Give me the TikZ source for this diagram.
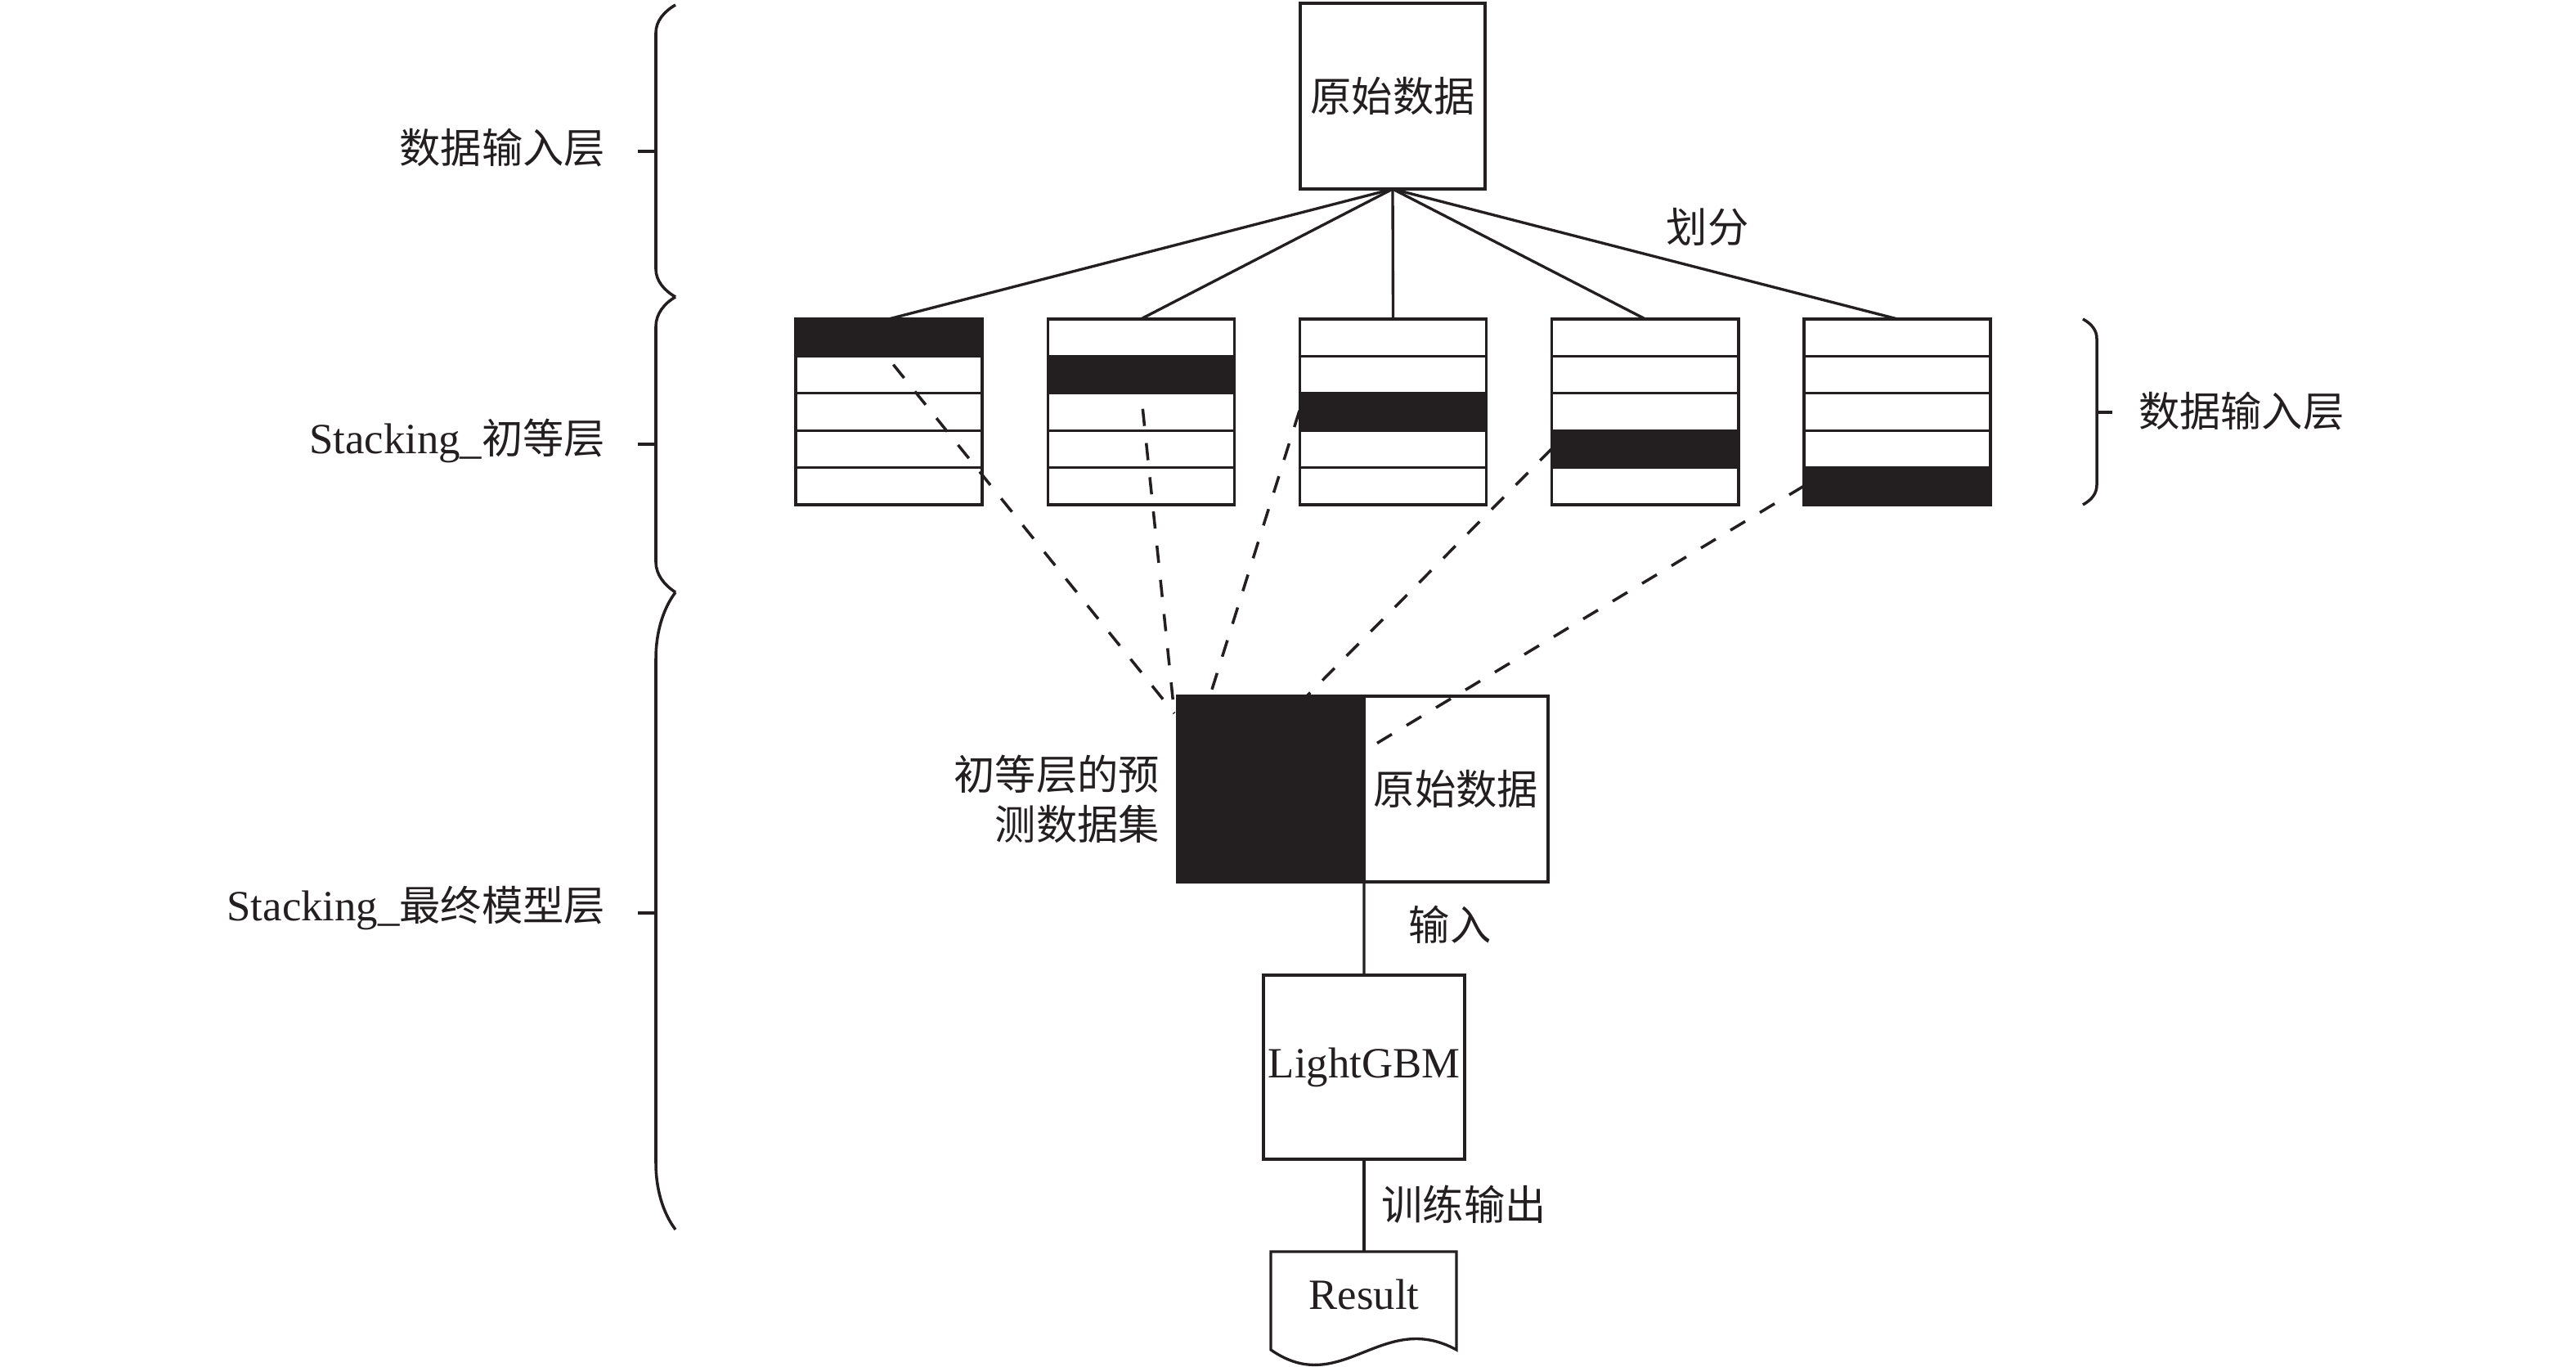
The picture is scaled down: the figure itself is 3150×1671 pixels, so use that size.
\documentclass[tikz,border=0pt]{standalone}
\usepackage{fontspec}
\setmainfont{Liberation Serif}
\newfontfamily\cjk{Noto Sans CJK SC}
\newcommand\latsz{\fontsize{15}{18}\selectfont}
\definecolor{ink}{HTML}{231F20}
\begin{document}
\begin{tikzpicture}[x=0.01cm,y=-0.01cm,
  every node/.style={inner sep=0pt,outer sep=0pt,text=ink,font=\fontsize{14.3}{17.3}\selectfont},
  box/.style={draw=ink,line width=0.95pt,fill=white},
  conn/.style={draw=ink,line width=0.95pt},
  dashconn/.style={draw=ink,line width=1pt,dash pattern=on 0.21cm off 0.21cm},
  bracepath/.style={draw=ink,line width=1pt},
  lbl/.style={anchor=east}]
\useasboundingbox (0,0) rectangle (3150,1671);
\fill[white] (0,0) rectangle (3150,1671);

% left braces
\draw[bracepath] (826,6) .. controls (812,14) and (802,26) .. (802,40) -- (802,329) .. controls (802,343) and (812,355) .. (826,363);
\draw[bracepath] (826,363) .. controls (812,371) and (802,384) .. (802,399) -- (802,687) .. controls (802,702) and (812,715) .. (826,724);
\draw[bracepath] (826,724) .. controls (810,745) and (802,775) .. (802,805) -- (802,1422) .. controls (802,1452) and (810,1482) .. (826,1503);
\coordinate (t1) at (802,185);
\coordinate (t2) at (802,543);
\coordinate (t3) at (802,1116);
\draw[bracepath] (t1) -- ++(-22,0);
\draw[bracepath] (t2) -- ++(-22,0);
\draw[bracepath] (t3) -- ++(-22,0);
\node[lbl] (L1) at (740,181) {\cjk 数据输入层};
\node[lbl] (L2) at (740,539) {{\latsz Stacking\_}{\cjk 初等层}};
\node[lbl] (L3) at (740,1110) {{\latsz Stacking\_}{\cjk 最终模型层}};

% right brace
\draw[bracepath] (2547,390) .. controls (2558,396) and (2564,404) .. (2564,414) -- (2564,593) .. controls (2564,603) and (2558,611) .. (2547,617);
\coordinate (rt) at (2564,504);
\draw[bracepath] (rt) -- ++(19,0);
\node[anchor=west] (R1) at (2615,503) {\cjk 数据输入层};

% source box
\node[box,minimum width=2.26cm,minimum height=2.27cm] (src) at (1703,117.5) {\cjk 原始数据};
\node (split) at (2088,278) {\cjk 划分};

% striped boxes
\foreach \i in {0,...,4} {
  \pgfmathsetmacro\cx{1087+308.25*\i}
  \node[box,minimum width=2.28cm,minimum height=2.27cm] (b\i) at (\cx,503.5) {};
  \fill[ink] ({\cx-114},{390+45.4*\i}) rectangle ({\cx+114},{435.4+45.4*\i});
  \foreach \j in {1,...,4} {
    \draw[conn] ({\cx-114},{390+45.4*\j}) -- ({\cx+114},{390+45.4*\j});
  }
  \draw[conn] (b\i.north west) rectangle (b\i.south east);
  \draw[conn] (src.south) -- (b\i.north);
}

% combined box
\node[draw=ink,fill=ink,line width=0.95pt,minimum width=2.28cm,minimum height=2.27cm] (pred) at (1554,964.5) {};
\node[box,minimum width=2.25cm,minimum height=2.27cm] (raw) at (1780.5,964.5) {\cjk 原始数据};
\node[anchor=east,align=right] (predlbl) at (1418,977) {\cjk 初等层的预\\\cjk 测数据集};

% dashed connectors
\coordinate (s0) at (1066,413);
\coordinate (s1) at (1393,458);
\coordinate (s2) at (1589,502);
\coordinate (s3) at (1898,548);
\coordinate (s4) at (2206,594);
\coordinate (e0) at (1436,872);
\coordinate (e1) at (1436,872);
\coordinate (e2) at (1476,862);
\coordinate (e3) at (1592,857);
\coordinate (e4) at (1668,918);
\foreach \k in {0,...,4} { \draw[dashconn] (s\k) -- (e\k); }

% LightGBM
\node[box,minimum width=2.46cm,minimum height=2.25cm,font=\latsz] (lgb) at (1668,1304.5) {LightGBM};
\draw[conn] (pred.south east) -- (lgb.north);
\node (inlbl) at (1773,1130) {\cjk 输入};

% Result
\coordinate (restop) at (1668,1530);
\draw[conn] (lgb.south) -- (restop);
\node (trlbl) at (1790,1472) {\cjk 训练输出};
\draw[conn] (1554,1530) -- (1781,1530) -- (1781,1650) .. controls (1690,1600) and (1640,1710) .. (1554,1650) -- cycle;
\node[font=\latsz] (res) at (1668,1582) {Result};
\end{tikzpicture}
\end{document}
